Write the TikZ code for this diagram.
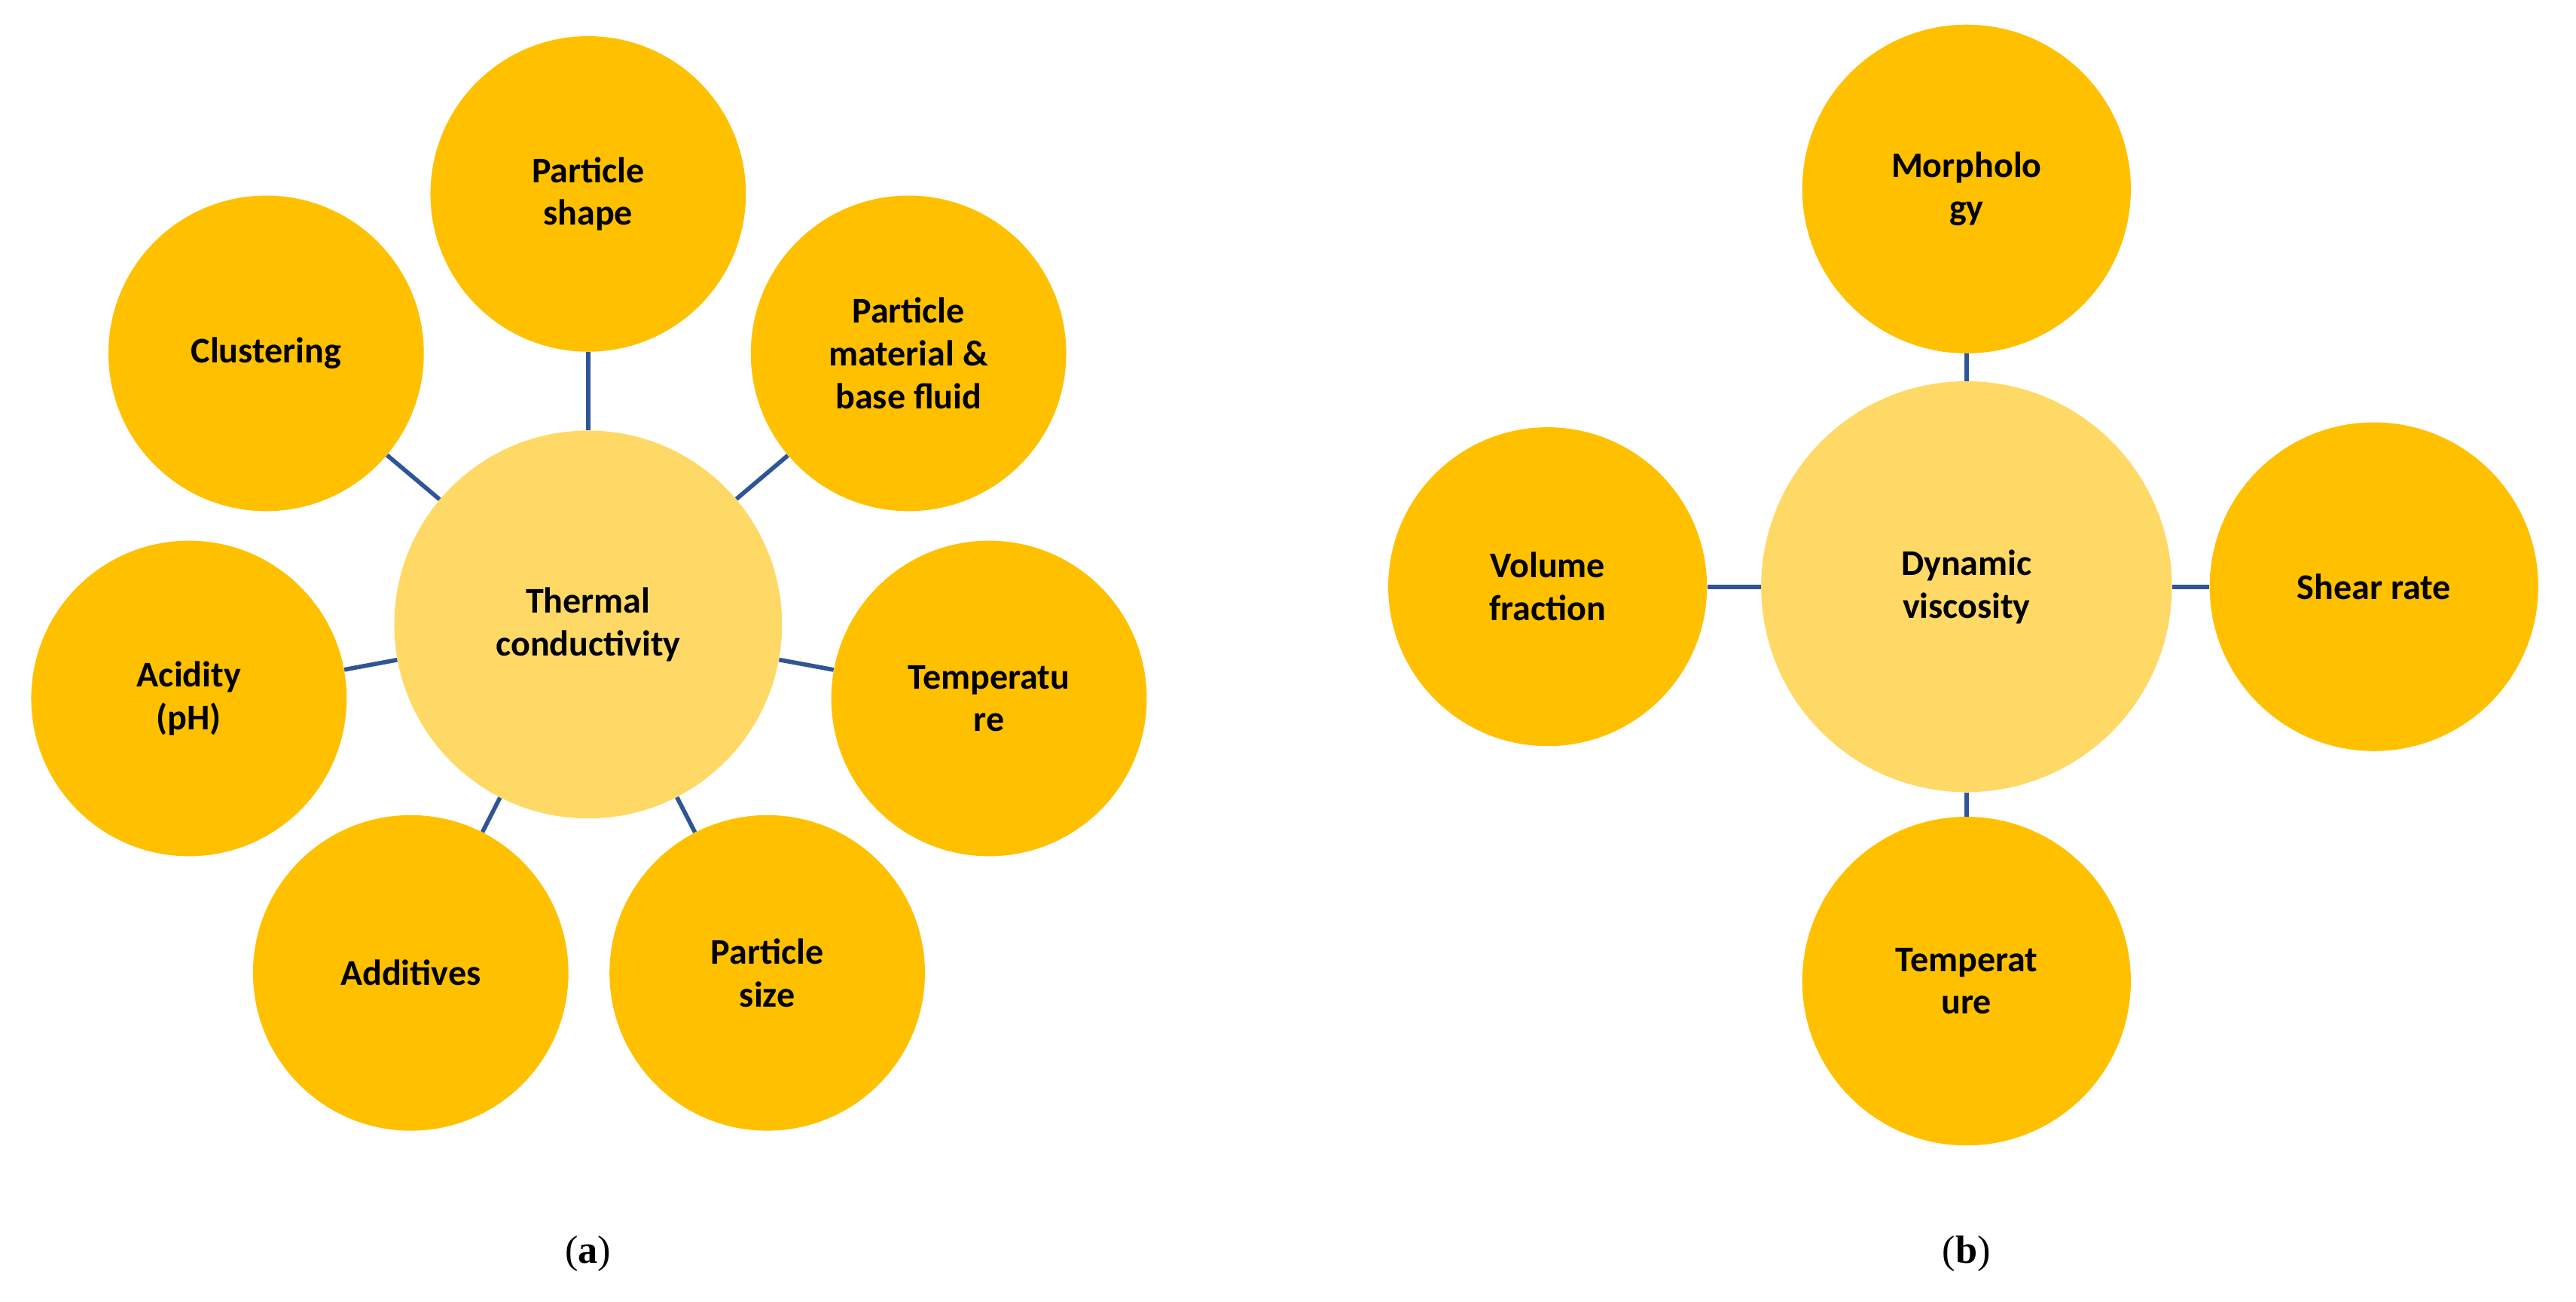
\documentclass[tikz,border=0pt]{standalone}
\usepackage{fontspec}
\setmainfont{Carlito}
\newfontfamily\capfont{Liberation Serif}
\definecolor{gold}{HTML}{FFC000}
\definecolor{pale}{HTML}{FFD966}
\definecolor{link}{HTML}{2F5597}
\begin{document}
\begin{tikzpicture}[x=1pt,y=-1pt,
  outer/.style={circle,fill=gold,minimum size=#1,inner sep=0pt,align=center,font=\fontsize{22}{26}\selectfont\bfseries},
  outer/.default=192pt,
  hub/.style={circle,fill=pale,minimum size=#1,inner sep=0pt,align=center,font=\fontsize{22}{26}\selectfont\bfseries},
  conn/.style={draw=link,line width=2.6pt},
  sublabel/.style={font=\capfont\fontsize{24}{28}\selectfont}]
\useasboundingbox (0,0) rectangle (1568,792);
% (a)
\node[hub=236pt] (tc) at (358,380) {Thermal\\conductivity};
\node[outer] (ps) at (358,118) {Particle\\shape};
\node[outer] (pm) at (553,215) {Particle\\material \&\\base fluid};
\node[outer] (te) at (602,425) {Temperatu\\re};
\node[outer] (sz) at (467,592) {Particle\\size};
\node[outer] (ad) at (250,592) {Additives};
\node[outer] (ac) at (115,425) {Acidity\\(pH)};
\node[outer] (cl) at (162,215) {Clustering};
\foreach \n in {ps,pm,te,sz,ad,ac,cl} \draw[conn] (tc) -- (\n);
\node[sublabel] (la) at (358,763) {(\textbf{a})};
% (b)
\node[hub=250pt] (dv) at (1197,357) {Dynamic\\viscosity};
\node[outer=200pt] (mo) at (1197,115) {Morpholo\\gy};
\node[outer=194pt] (vf) at (942,357) {Volume\\fraction};
\node[outer=200pt] (sr) at (1445,357) {Shear rate};
\node[outer=200pt] (t2) at (1197,597) {Temperat\\ure};
\foreach \n in {mo,vf,sr,t2} \draw[conn] (dv) -- (\n);
\node[sublabel] (lb) at (1197,763) {(\textbf{b})};
\end{tikzpicture}
\end{document}
